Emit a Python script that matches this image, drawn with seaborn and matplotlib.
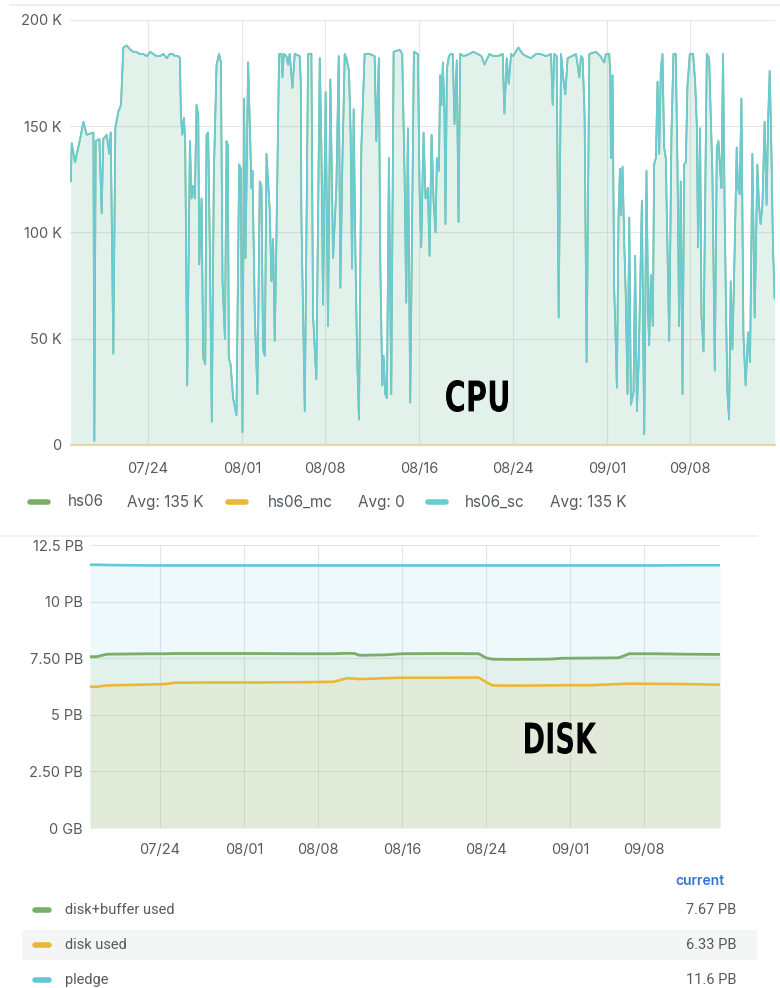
import numpy as np
import pandas as pd
import seaborn as sns
import matplotlib.pyplot as plt
from matplotlib.lines import Line2D
from matplotlib.patches import Rectangle, PathPatch
from matplotlib.textpath import TextPath
from matplotlib.font_manager import FontProperties
from matplotlib.transforms import Affine2D, IdentityTransform
from matplotlib.ticker import FixedLocator, FixedFormatter

# данные: дни от 17.07, значения в K (hs06) и PB (disk)
start = pd.Timestamp("2023-07-17")

cpu_day = [0.45, 0.53, 0.81, 1.24, 1.52, 1.80, 2.37, 2.45, 2.56, 2.88, 3.07, 3.21, 3.50, 3.72, 3.84,
           4.06, 4.23, 4.49, 4.71, 4.91, 5.19, 5.50, 5.76, 6.00, 6.30, 6.60, 6.90, 7.20, 7.45, 7.70,
           8.02, 8.30, 8.60, 8.86, 9.10, 9.30, 9.57, 9.71, 9.80, 9.91, 10.05, 10.16, 10.33, 10.56,
           10.70, 10.84, 10.98, 11.12, 11.27, 11.35, 11.55, 11.69, 11.86, 11.97, 12.11, 12.25, 12.42,
           12.59, 12.82, 13.04, 13.19, 13.33, 13.53, 13.67, 13.78, 13.86, 14.01, 14.23, 14.51, 14.74,
           14.88, 15.02, 15.16, 15.28, 15.50,
           15.79, 15.87, 16.07, 16.29, 16.49, 16.63, 16.77, 16.92, 17.06, 17.34, 17.48, 17.62, 17.76,
           17.90, 18.13, 18.33, 18.41, 18.53, 18.75, 18.89, 19.03, 19.26, 19.46, 19.88, 19.97, 20.02,
           20.31, 20.59, 20.87, 21.01, 21.29, 21.58, 21.72, 21.86, 22.08, 22.28, 22.48, 22.71, 22.99,
           23.19, 23.33, 23.50, 23.70, 23.84, 24.06, 24.20, 24.32, 24.46, 24.60, 24.74, 24.91, 25.11,
           25.39, 25.81, 26.24, 26.38, 26.60, 26.72, 26.89, 27.00, 27.14, 27.28, 27.45, 27.65, 27.85,
           28.36, 28.58, 28.78, 28.92, 29.06, 29.26, 29.43, 29.57, 29.91,
           30.05, 30.19, 30.39, 30.56, 30.76, 30.90, 31.07, 31.24, 31.41, 31.52, 31.69, 31.80, 31.91,
           32.03, 32.17, 32.25, 32.37, 32.54, 32.73, 32.87, 33.02, 33.21, 33.36, 33.50, 33.80, 34.29,
           34.60, 34.99, 35.30, 35.56, 35.98, 36.30, 36.69, 37.11, 37.25, 37.45, 37.62, 37.82, 38.00,
           38.44, 38.80, 39.09, 39.50, 39.94, 40.30, 40.78, 41.21, 41.35, 41.49, 41.69, 41.86, 42.06,
           42.28, 42.42, 42.62, 43.00, 43.33, 43.61, 43.75, 43.89, 44.06, 44.23, 44.46, 45.02, 45.40,
           45.73, 45.87,
           45.95, 46.15, 46.24, 46.29, 46.43, 46.57, 46.72, 46.80, 46.94, 47.06, 47.14, 47.28, 47.42,
           47.56, 47.70, 47.85, 47.99, 48.21, 48.35, 48.50, 48.64, 48.78, 48.92, 49.12, 49.31, 49.46,
           49.54, 49.68, 49.85, 49.96, 50.11, 50.25, 50.39, 50.53, 50.67, 50.81, 50.95, 51.09, 51.24,
           51.43, 51.60, 51.80, 51.94, 52.08, 52.22, 52.37, 52.51, 52.65, 52.79, 52.99, 53.27, 53.44,
           53.58, 53.69, 53.86, 53.98, 54.15, 54.29, 54.43, 54.63, 54.77, 54.91, 55.11, 55.28, 55.42,
           55.56, 55.67, 55.81, 55.95, 56.07, 56.18, 56.32, 56.46, 56.60, 56.74, 56.97, 57.08, 57.22,
           57.37, 57.54, 57.73, 57.93, 58.10, 58.30, 58.50, 58.72, 58.86, 59.00, 59.15, 59.34, 59.51,
           59.63, 59.77, 59.91, 60.05, 60.19]
cpu_k = [124, 142, 133, 144, 152, 146, 147, 2, 143, 144, 109, 144, 146, 137, 147,
         43, 149, 157, 160, 187, 188, 186, 185, 185, 184, 184, 183, 185, 184, 183,
         183, 184, 182, 184, 184, 183, 183, 182, 155, 146, 154, 143, 28, 143,
         116, 122, 116, 160, 155, 85, 116, 41, 38, 146, 147, 93, 11,
         127, 179, 184, 180, 77, 50, 143, 141, 41, 38, 22, 14, 132,
         130, 6, 163, 88, 180,
         121, 129, 61, 24, 124, 122, 45, 42, 137, 110, 77, 97, 49,
         96, 184, 184, 173, 184, 183, 179, 184, 168, 184, 183, 171, 108,
         16, 184, 184, 61, 31, 182, 140, 66, 166, 56, 172, 88, 121,
         183, 74, 133, 184, 182, 176, 147, 83, 158, 93, 45, 12, 140,
         184, 184, 183, 143, 182, 85, 28, 42, 24, 22, 135, 24, 185,
         186, 184, 127, 67, 149, 20, 108, 185, 184,
         121, 93, 147, 116, 121, 89, 146, 115, 100, 135, 129, 174, 160,
         180, 155, 104, 177, 183, 184, 184, 151, 181, 105, 184, 183, 184,
         185, 184, 183, 179, 184, 183, 183, 184, 156, 182, 170, 184, 183,
         187, 184, 183, 182, 184, 184, 183, 184, 160, 184, 183, 60, 184,
         171, 165, 182, 183, 184, 173, 183, 182, 155, 39, 184, 185, 183,
         180, 184,
         184, 184, 174, 135, 174, 74, 45, 27, 108, 130, 108, 131, 96,
         69, 24, 107, 19, 25, 89, 16, 38, 75, 115, 5, 129, 61,
         47, 80, 56, 132, 135, 171, 137, 177, 184, 140, 135, 93, 49,
         146, 184, 184, 132, 56, 124, 24, 132, 133, 169, 184, 184, 171,
         151, 93, 149, 61, 44, 115, 184, 182, 155, 127, 35, 140, 143,
         130, 121, 184, 108, 61, 25, 12, 77, 45, 77, 140, 121, 118,
         163, 52, 28, 53, 39, 137, 60, 132, 113, 104, 113, 152, 113,
         152, 176, 140, 93, 69]
mc_day = [0.45, 60.19]
mc_k = [0, 0]

disk_day = [0.38, 1.0, 2.0, 4.0, 6.0, 7.5, 8.5, 12.0, 16.0, 20.0, 23.5, 24.8, 25.5, 26.0, 28.4,
            30.0, 34.0, 37.3, 38.0, 38.6, 40.0, 44.0, 45.2, 48.0, 50.6, 51.6, 54.0, 57.0, 60.22]
disk_buffer_pb = [7.57, 7.57, 7.68, 7.69, 7.70, 7.70, 7.71, 7.71, 7.71, 7.70, 7.70, 7.72, 7.71, 7.63, 7.65,
                  7.70, 7.71, 7.70, 7.52, 7.46, 7.45, 7.46, 7.50, 7.51, 7.52, 7.70, 7.70, 7.68, 7.67]
disk_used_pb = [6.24, 6.24, 6.30, 6.32, 6.34, 6.36, 6.42, 6.43, 6.43, 6.44, 6.46, 6.62, 6.60, 6.58, 6.62,
                6.64, 6.64, 6.65, 6.45, 6.30, 6.29, 6.30, 6.31, 6.31, 6.36, 6.38, 6.37, 6.36, 6.33]
pledge_pb = [11.63, 11.63, 11.62, 11.61, 11.6, 11.6, 11.6, 11.6, 11.6, 11.6, 11.6, 11.6, 11.6, 11.6, 11.6,
             11.6, 11.6, 11.6, 11.6, 11.6, 11.6, 11.6, 11.6, 11.6, 11.6, 11.6, 11.6, 11.61, 11.61]

tick_dates = ["2023-07-24", "2023-08-01", "2023-08-08", "2023-08-16", "2023-08-24", "2023-09-01", "2023-09-08"]
tick_labels = ["07/24", "08/01", "08/08", "08/16", "08/24", "09/01", "09/08"]
cpu_yticks = [0, 50, 100, 150, 200]
cpu_ylabels = ["0", "50 K", "100 K", "150 K", "200 K"]
disk_yticks = [0, 2.5, 5, 7.5, 10, 12.5]
disk_ylabels = ["0 GB", "2.50 PB", "5 PB", "7.50 PB", "10 PB", "12.5 PB"]

cpu_names = ["hs06", "hs06_mc", "hs06_sc"]
cpu_avgs = ["Avg: 135 K", "Avg: 0", "Avg: 135 K"]
disk_names = ["disk+buffer used", "disk used", "pledge"]
disk_current = ["7.67 PB", "6.33 PB", "11.6 PB"]

GREEN = "#7aad6a"
YELLOW = "#eab839"
CYAN = "#6ccbd1"
BLUE = "#62c6dd"
TXT = "#555a60"

sns.set_theme(style="white")
plt.rcParams["font.family"] = ["Inter", "DejaVu Sans"]

cpu = pd.DataFrame({"time": start + pd.to_timedelta(cpu_day, unit="D"), "k": cpu_k})
mc = pd.DataFrame({"time": start + pd.to_timedelta(mc_day, unit="D"), "k": mc_k})
disk = pd.DataFrame({"time": start + pd.to_timedelta(disk_day, unit="D"),
                     "buffer": disk_buffer_pb, "used": disk_used_pb, "pledge": pledge_pb})

xlim = (start + pd.Timedelta(days=0.38), start + pd.Timedelta(days=60.22))
xticks = pd.to_datetime(tick_dates)

W, H = 780, 988
fig = plt.figure(figsize=(W / 100, H / 100), dpi=100)
ax1 = fig.add_axes([0.0897, 0.5496, 0.9039, 0.4302])
ax2 = fig.add_axes([0.1154, 0.1619, 0.8077, 0.2864])


def style_axis(ax, yticks, ylabels, ypad, xpad):
    for s in ax.spines.values():
        s.set_visible(False)
    ax.set_xlim(*xlim)
    ax.xaxis.set_major_locator(FixedLocator([plt.matplotlib.dates.date2num(t) for t in xticks]))
    ax.xaxis.set_major_formatter(FixedFormatter(tick_labels))
    ax.yaxis.set_major_locator(FixedLocator(yticks))
    ax.yaxis.set_major_formatter(FixedFormatter(ylabels))
    ax.set_ylim(yticks[0], yticks[-1])
    ax.grid(True, color="#e4e6e6", lw=0.8)
    ax.set_axisbelow(True)
    ax.tick_params(axis="y", length=0, labelsize=10.5, colors=TXT, pad=ypad)
    ax.tick_params(axis="x", length=0, labelsize=10.5, colors=TXT, pad=xpad)
    ax.set_xlabel("")
    ax.set_ylabel("")


def narrow_label(text, left, top, right, bottom):
    # жирная узкая надпись: растягиваем контур в заданный прямоугольник (пиксели, сверху вниз)
    tp = TextPath((0, 0), text, size=40, prop=FontProperties(family="DejaVu Sans", weight="bold"))
    ext = tp.get_extents()
    sx = (right - left) / ext.width
    sy = (bottom - top) / ext.height
    tr = (Affine2D().translate(-ext.x0, -ext.y0).scale(sx, sy)
          .translate(left, H - bottom))
    fig.add_artist(PathPatch(tr.transform_path(tp), transform=IdentityTransform(),
                             color="black", lw=0, zorder=10))


# CPU
ax1.fill_between(cpu["time"], cpu["k"], 0, color=GREEN, alpha=0.1, lw=0)
ax1.fill_between(cpu["time"], cpu["k"], 0, color=CYAN, alpha=0.1, lw=0)
sns.lineplot(data=cpu, x="time", y="k", ax=ax1, color=GREEN, lw=1.2)
sns.lineplot(data=mc, x="time", y="k", ax=ax1, color="#e6d7a4", lw=1.6, clip_on=False)
sns.lineplot(data=cpu, x="time", y="k", ax=ax1, color=CYAN, lw=1.3)
style_axis(ax1, cpu_yticks, cpu_ylabels, 6, 12)
narrow_label("CPU", 446, 380, 508, 412)

# DISK
ax2.fill_between(disk["time"], disk["pledge"], 0, color=BLUE, alpha=0.1, lw=0)
ax2.fill_between(disk["time"], disk["buffer"], 0, color=GREEN, alpha=0.1, lw=0)
ax2.fill_between(disk["time"], disk["used"], 0, color=YELLOW, alpha=0.1, lw=0)
sns.lineplot(data=disk, x="time", y="pledge", ax=ax2, color=BLUE, lw=1.9)
sns.lineplot(data=disk, x="time", y="buffer", ax=ax2, color=GREEN, lw=2.0)
sns.lineplot(data=disk, x="time", y="used", ax=ax2, color=YELLOW, lw=1.9)
style_axis(ax2, disk_yticks, disk_ylabels, 5, 11)
narrow_label("DISK", 525, 722, 597, 754)

# panel borders
fig.add_artist(Line2D([10 / W, 1.0], [1 - 5 / H] * 2, color="#ececec", lw=1.2))
fig.add_artist(Line2D([0.0, 757 / W], [1 - 536 / H] * 2, color="#efefef", lw=1.2))

# CPU legend
leg_y = 1 - 502 / H
cpu_cols = [GREEN, YELLOW, CYAN]
dash_x = [30, 228, 428]
name_x = [68, 268, 465]
avg_x = [127, 358, 550]
for col, dx, nx, ax_, name, avg in zip(cpu_cols, dash_x, name_x, avg_x, cpu_names, cpu_avgs):
    fig.add_artist(Line2D([dx / W, (dx + 18) / W], [leg_y, leg_y], color=col, lw=4,
                          solid_capstyle="round"))
    fig.text(nx / W, leg_y, name, fontsize=11, color=TXT, va="center", ha="left")
    fig.text(ax_ / W, leg_y, avg, fontsize=11, color=TXT, va="center", ha="left")

# DISK legend table
fig.text(724 / W, 1 - 881 / H, "current", fontsize=10, color="#3274d9", fontweight="semibold",
         ha="right", va="center")
fig.add_artist(Rectangle((22 / W, 1 - 960 / H), 735 / W, 30 / H, color="#f4f5f5", lw=0, zorder=0))
row_y = [910, 945, 980]
disk_cols = [GREEN, YELLOW, BLUE]
for ry, col, name, cur in zip(row_y, disk_cols, disk_names, disk_current):
    y = 1 - ry / H
    fig.add_artist(Line2D([35 / W, 49 / W], [y, y], color=col, lw=4, solid_capstyle="round"))
    fig.text(65 / W, y, name, fontsize=10.5, color=TXT, va="center", ha="left",
             family=["Roboto", "DejaVu Sans"])
    fig.text(736 / W, y, cur, fontsize=10.5, color=TXT, va="center", ha="right",
             family=["Roboto", "DejaVu Sans"])

fig.savefig("out.png", dpi=100)
